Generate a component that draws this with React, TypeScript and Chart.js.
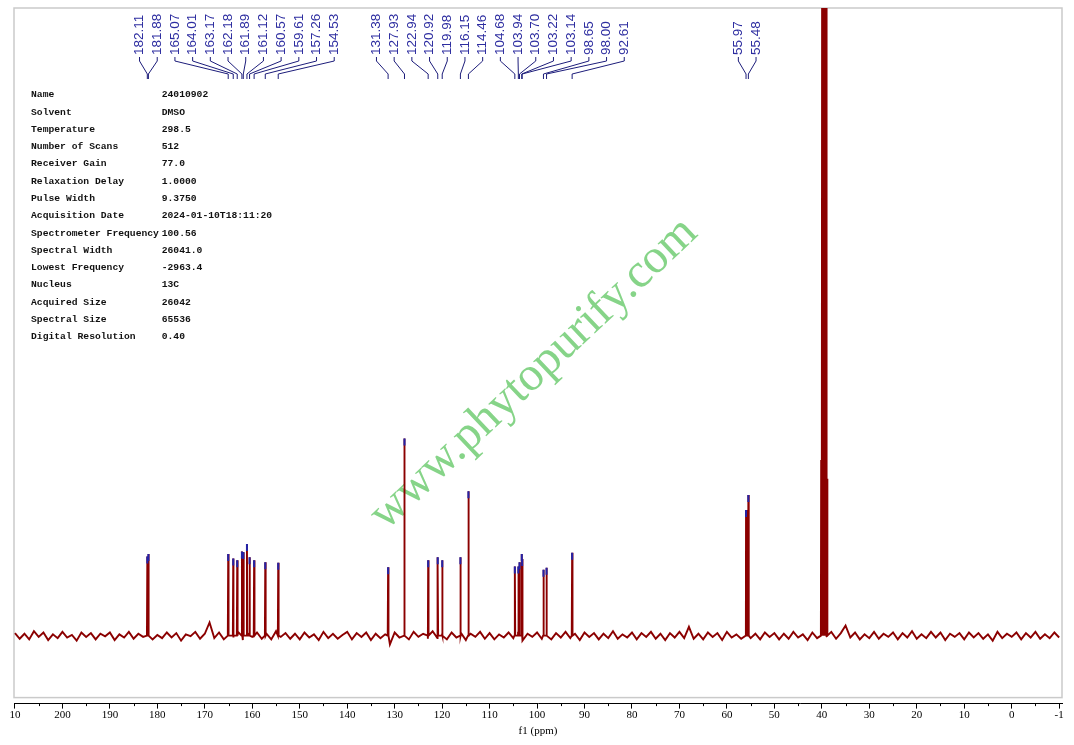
import { useEffect, useRef } from "react";
import { Chart, registerables } from "chart.js";

Chart.register(...registerables);

// picked 13C peaks (ppm) and their heights (baseline = 0)
const peakPpm = [
  182.11, 181.88, 165.07, 164.01, 163.17, 162.18, 161.89, 161.12, 160.57, 159.61,
  157.26, 154.53, 131.38, 127.93, 122.94, 120.92, 119.98, 116.15, 114.46, 104.68,
  103.94, 103.7, 103.22, 103.14, 98.65, 98.0, 92.61, 55.97, 55.48,
];
const peakHeight = [
  12.6, 13.0, 13.0, 12.3, 12.0, 13.4, 13.3, 14.6, 12.5, 12.0,
  11.7, 11.6, 10.9, 31.4, 12.0, 12.5, 12.0, 12.5, 23.0, 11.0,
  11.0, 11.7, 13.0, 12.2, 10.5, 10.8, 13.2, 20.0, 22.4,
];

// DMSO septet, not labelled, goes off the top
const solventPpm = [40.14, 39.93, 39.72, 39.52, 39.31, 39.1, 38.89];
const solventHeight = [28, 120, 170, 190, 170, 120, 25];

// baseline noise, one value per ppm from 210 down to -10
const baselineStart = 210;
const noise = [
  // 210 .. 191
  0.4, -0.5, 0.3, -0.6, 0.7, -0.2, 0.5, -0.7, 0.2, -0.4, 0.6, -0.3, 0.1, -0.8, 0.5, -0.2, 0.4, -0.6, 0.3, -0.1,
  // 190 .. 171
  0.5, -0.7, 0.2, -0.3, 0.6, -0.5, 0.3, -0.2, 0.7, -0.6, 0.1, -0.4, 0.5, -0.3, 0.4, -0.8, 0.2, -0.1, 0.6, -0.5,
  // 170 .. 151
  0.3, 2.1, -0.4, 0.5, -0.6, 0.2, -0.3, 0.6, -0.7, 0.4, -0.2, 0.5, -0.5, 0.3, -0.6, 0.7, -0.2, 0.4, -0.5, 0.3,
  // 150 .. 131
  -0.6, 0.5, -0.3, 0.2, -0.7, 0.6, -0.4, 0.3, -0.5, 0.1, 0.6, -0.6, 0.4, -0.2, 0.5, -0.7, 0.3, -0.4, 0.2, -1.4,
  // 130 .. 111
  0.5, -0.3, 0.4, -0.6, 0.6, -0.2, 0.3, -0.5, 0.7, -0.4, 0.2, -0.6, 0.5, -0.3, 0.4, -0.7, 0.3, -0.2, 0.6, -0.5,
  // 110 .. 91
  0.4, -0.6, 0.2, -0.3, 0.5, -0.4, 0.6, -0.8, 0.3, -0.2, 0.5, -0.5, 0.2, -0.6, 0.4, -0.3, 0.6, -0.4, 0.3, -0.7,
  // 90 .. 71
  0.5, -0.2, 0.4, -0.6, 0.3, -0.4, 0.7, -0.5, 0.2, -0.3, 0.5, -0.6, 0.4, -0.2, 0.6, -0.5, 0.3, -0.7, 0.4, -0.3,
  // 70 .. 51
  0.6, -0.4, 1.4, -0.5, 0.3, -0.6, 0.5, -0.2, 0.4, -0.7, 0.6, -0.3, 0.2, -0.5, 0.7, -0.4, 0.3, -0.6, 0.5, -0.2,
  // 50 .. 31
  0.4, -0.6, 0.3, -0.5, 0.6, -0.3, 0.2, -0.7, 0.5, -0.4, 0.3, -0.2, 0.6, -0.5, 0.4, 1.6, -0.3, 0.5, -0.6, 0.2,
  // 30 .. 11
  -0.4, 0.6, -0.5, 0.3, -0.2, 0.5, -0.6, 0.4, -0.3, 0.7, -0.5, 0.2, -0.4, 0.6, -0.3, 0.5, -0.7, 0.3, -0.2, 0.4,
  // 10 .. -10
  -0.6, 0.5, -0.3, 0.4, -0.5, 0.2, -0.8, 0.6, -0.4, 0.3, -0.2, 0.5, -0.6, 0.4, -0.3, 0.6, -0.5, 0.2, -0.4, 0.5, -0.3,
];

// axis ticks (the end labels are cut off in the original)
const tickValues = [210, 200, 190, 180, 170, 160, 150, 140, 130, 120, 110, 100, 90, 80, 70, 60, 50, 40, 30, 20, 10, 0, -10];
const tickLabels = ["10", "200", "190", "180", "170", "160", "150", "140", "130", "120", "110", "100", "90", "80", "70", "60", "50", "40", "30", "20", "10", "0", "-1"];
const minorTickValues = [205, 195, 185, 175, 165, 155, 145, 135, 125, 115, 105, 95, 85, 75, 65, 55, 45, 35, 25, 15, 5, -5];

const paramNames = [
  "Name", "Solvent", "Temperature", "Number of Scans", "Receiver Gain", "Relaxation Delay",
  "Pulse Width", "Acquisition Date", "Spectrometer Frequency", "Spectral Width",
  "Lowest Frequency", "Nucleus", "Acquired Size", "Spectral Size", "Digital Resolution",
];
const paramValues = [
  "24010902", "DMSO", "298.5", "512", "77.0", "1.0000", "9.3750", "2024-01-10T18:11:20",
  "100.56", "26041.0", "-2963.4", "13C", "26042", "65536", "0.40",
];

const markerDrop = 0.55; // blue pick marks sit just under the peak top

const decorPlugin = {
  id: "nmrDecor",
  beforeDatasetsDraw(chart: any) {
    const { ctx, chartArea } = chart;
    const { left, top, right, bottom } = chartArea;
    ctx.save();
    // grey frame
    ctx.strokeStyle = "#cacaca";
    ctx.lineWidth = 1.5;
    ctx.strokeRect(left, top, right - left, bottom - 6 - top);

    // parameter table
    ctx.fillStyle = "#111";
    ctx.font = 'bold 9.7px "Liberation Mono", monospace';
    ctx.textBaseline = "middle";
    ctx.textAlign = "left";
    paramNames.forEach((name, i) => {
      const y = top + 87 + i * 17.26;
      ctx.fillText(name, left + 17, y);
      ctx.fillText(paramValues[i], left + 147.7, y);
    });

    // watermark
    ctx.translate(left + 372, top + 523);
    ctx.rotate((-43.4 * Math.PI) / 180);
    ctx.fillStyle = "#86d488";
    ctx.font = '48px "Liberation Serif", serif';
    ctx.textBaseline = "alphabetic";
    ctx.fillText("www.phytopurify.com", 0, 0);
    ctx.restore();
  },
  afterDatasetsDraw(chart: any) {
    const { ctx, chartArea } = chart;
    const xs = chart.scales.x;
    const top = chartArea.top;
    const order = peakPpm.map((_, i) => i).sort((a, b) => peakPpm[b] - peakPpm[a]);
    const ideal = order.map((i) => xs.getPixelForValue(peakPpm[i]));
    const gap = 17.7;

    const leftOf = (c: { from: number; to: number }) => {
      const vals = ideal.slice(c.from, c.to + 1);
      const n = vals.length;
      const mean = vals.reduce((s, v) => s + v, 0) / n;
      const sorted = [...vals].sort((a, b) => a - b);
      const median = n % 2 ? sorted[(n - 1) / 2] : (sorted[n / 2 - 1] + sorted[n / 2]) / 2;
      return (mean + median) / 2 - ((n - 1) * gap) / 2;
    };

    let clusters = ideal.map((_, k) => ({ from: k, to: k }));
    let merged = true;
    while (merged) {
      merged = false;
      for (let k = 0; k < clusters.length - 1; k++) {
        const a = clusters[k];
        const b = clusters[k + 1];
        const aRight = leftOf(a) + (a.to - a.from) * gap;
        if (leftOf(b) - aRight < gap) {
          clusters.splice(k, 2, { from: a.from, to: b.to });
          merged = true;
          break;
        }
      }
    }
    const labelX: number[] = [];
    clusters.forEach((c) => {
      const l = leftOf(c);
      for (let k = c.from; k <= c.to; k++) labelX[k] = l + (k - c.from) * gap;
    });

    ctx.save();
    ctx.strokeStyle = "#1c1c7a";
    ctx.lineWidth = 1;
    order.forEach((_, k) => {
      ctx.beginPath();
      ctx.moveTo(labelX[k], top + 49);
      ctx.lineTo(labelX[k], top + 53);
      ctx.lineTo(ideal[k], top + 66);
      ctx.lineTo(ideal[k], top + 71);
      ctx.stroke();
    });
    ctx.fillStyle = "#2d2da0";
    ctx.font = '13.5px "Liberation Sans", Arial, sans-serif';
    ctx.textAlign = "left";
    ctx.textBaseline = "middle";
    order.forEach((i, k) => {
      ctx.save();
      ctx.translate(labelX[k], top + 47);
      ctx.rotate(-Math.PI / 2);
      ctx.fillText(peakPpm[i].toFixed(2), 0, 0);
      ctx.restore();
    });
    ctx.restore();
  },
  afterDraw(chart: any) {
    const { ctx, chartArea } = chart;
    const xs = chart.scales.x;
    ctx.save();
    ctx.strokeStyle = "#000";
    ctx.lineWidth = 1;
    minorTickValues.forEach((v) => {
      const x = Math.round(xs.getPixelForValue(v)) + 0.5;
      ctx.beginPath();
      ctx.moveTo(x, chartArea.bottom);
      ctx.lineTo(x, chartArea.bottom + 2.5);
      ctx.stroke();
    });
    ctx.restore();
  },
};

export default function App() {
  const chartRef = useRef<Chart | null>(null);
  const canvasRef = useRef<HTMLCanvasElement | null>(null);

  useEffect(() => {
    const spectrum: { x: number; y: number }[] = noise.map((v, i) => ({ x: baselineStart - i, y: v }));
    peakPpm.forEach((p, i) => {
      spectrum.push({ x: p + 0.08, y: 0 }, { x: p, y: peakHeight[i] }, { x: p - 0.08, y: 0 });
    });
    solventPpm.forEach((p, i) => {
      spectrum.push({ x: p + 0.06, y: 0 }, { x: p, y: solventHeight[i] }, { x: p - 0.06, y: 0 });
    });
    spectrum.sort((a, b) => b.x - a.x);

    const marks = peakPpm.map((p, i) => ({ x: p, y: peakHeight[i] - markerDrop }));

    if (chartRef.current) chartRef.current.destroy();
    const ctx = canvasRef.current?.getContext("2d");
    if (ctx) {
      chartRef.current = new Chart(ctx, {
        type: "line",
        data: {
          datasets: [
            {
              data: marks,
              showLine: false,
              pointStyle: "line",
              pointRotation: 90,
              pointRadius: 3.5,
              pointBorderColor: "#2323a8",
              pointBorderWidth: 2,
              order: 1,
            },
            {
              data: spectrum,
              borderColor: "#8b0000",
              borderWidth: 1.9,
              pointRadius: 0,
              tension: 0,
              order: 2,
            },
          ],
        },
        options: {
          animation: false,
          responsive: true,
          maintainAspectRatio: false,
          layout: { padding: { left: 14, right: 12, top: 8, bottom: 7 } },
          plugins: {
            legend: { display: false },
            tooltip: { enabled: false },
          },
          scales: {
            x: {
              type: "linear",
              reverse: true,
              min: -10.6,
              max: 210.2,
              afterBuildTicks: (scale: any) => {
                scale.ticks = tickValues.map((v) => ({ value: v }));
              },
              ticks: {
                autoSkip: false,
                maxRotation: 0,
                padding: 0,
                color: "#000",
                font: { family: "Liberation Serif", size: 11 },
                callback: (v: any) => tickLabels[tickValues.indexOf(Number(v))],
              },
              grid: {
                drawOnChartArea: false,
                drawTicks: true,
                tickLength: 5,
                tickColor: "#000",
                tickWidth: 1,
              },
              border: { display: true, color: "#000", width: 1 },
              title: {
                display: true,
                text: "f1 (ppm)",
                color: "#000",
                font: { family: "Liberation Serif", size: 11 },
                padding: { top: 3, bottom: 0 },
              },
            },
            y: { display: false, min: -10.83, max: 100 },
          },
        },
        plugins: [decorPlugin],
      });
    }

    return () => {
      if (chartRef.current) chartRef.current.destroy();
    };
  }, []);

  return (
    <div style={{ position: "fixed", left: 0, top: 0, width: 1074, height: 745, background: "#fff" }}>
      <canvas ref={canvasRef} />
    </div>
  );
}
